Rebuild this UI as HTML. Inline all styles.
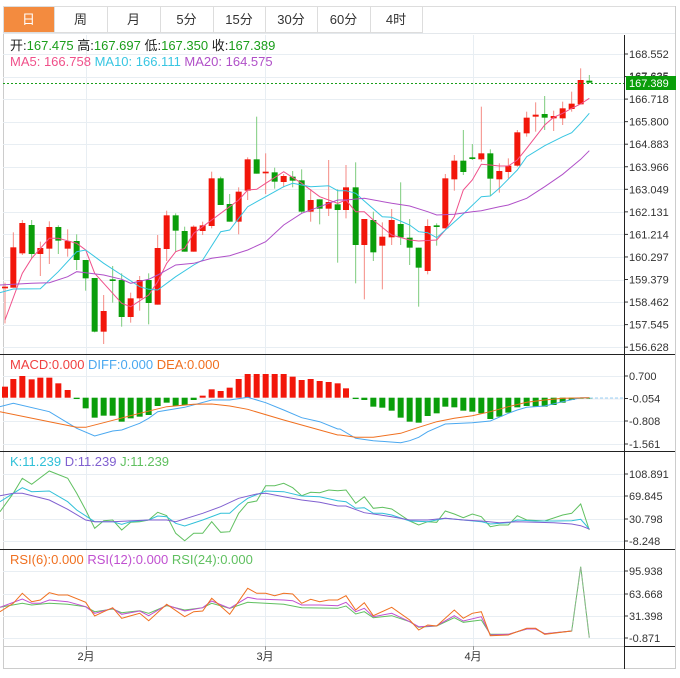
<!DOCTYPE html>
<html><head><meta charset="utf-8"><style>
body{margin:0;background:#fff;width:680px;height:678px;overflow:hidden;font-family:"Liberation Sans","Noto Sans CJK SC",sans-serif}
svg{position:absolute;left:0;top:0}
text{font-family:"Liberation Sans","Noto Sans CJK SC",sans-serif}
</style></head><body>
<svg id="s" width="680" height="678" xmlns="http://www.w3.org/2000/svg"></svg>
<script>
const S=document.getElementById('s');let h='';
function L(x1,y1,x2,y2,c,w,d){h+=`<line x1="${x1}" y1="${y1}" x2="${x2}" y2="${y2}" stroke="${c}" stroke-width="${w||1}" ${d?'stroke-dasharray="'+d+'"':''}/>`;}
function R(x,y,w,hh,c){h+=`<rect x="${x}" y="${y}" width="${w}" height="${hh}" fill="${c}"/>`;}
function T(x,y,s,c,sz,a){h+=`<text x="${x}" y="${y}" fill="${c}" font-size="${sz||12}" ${a?'text-anchor="'+a+'"':''}>${s}</text>`;}
function P(arr,c,w,d){h+=`<polyline fill="none" stroke="${c}" stroke-width="${w||1}" ${d?'stroke-dasharray="'+d+'"':''} points="${arr.map(p=>p[0].toFixed(1)+','+p[1].toFixed(1)).join(' ')}"/>`;}
function Z(list,xo,yo){return list.map(p=>[xo+p[0]/3,yo+p[1]/3]);}
const tabs=[['日',3,54],['周',54,107],['月',107,160],['5分',160,213],['15分',213,265],['30分',265,317],['60分',317,370],['4时',370,422]];
R(3,6,672,27,'#fff');
tabs.forEach((t,i)=>{R(t[1],6,t[2]-t[1],26,i==0?'#f38b3f':'#fff');h+=`<rect x="${t[1]+.5}" y="6.5" width="${t[2]-t[1]}" height="26" fill="none" stroke="#ddd"/>`;T((t[1]+t[2])/2,24,t[0],i==0?'#fff':'#333',13,'middle');});
L(422,6.5,675,6.5,'#ddd');
L(3.5,33,3.5,669,'#ccc');L(3,33.5,675,33.5,'#e4e8ec');L(675.5,6,675.5,669,'#ccc');L(3,668.5,675,668.5,'#ccc');
[86,265,473].forEach(x=>L(x+.5,35,x+.5,646,'#e8eef3'));
const pl=['168.552','167.635','166.718','165.800','164.883','163.966','163.049','162.131','161.214','160.297','159.379','158.462','157.545','156.628'];
pl.forEach((s,k)=>{let y=54+22.55*k;L(3,Math.round(y)+.5,624,Math.round(y)+.5,'#e8eef3');L(624,y,628,y,'#333');T(629,y+4,s,'#333',11);});
function grid(ys,labs){ys.forEach((y,i)=>{L(3,y+.5,624,y+.5,'#e8eef3');L(624,y,628,y,'#333');T(629,y+4,labs[i],'#333',11);});}
grid([376,398.5,421,444],['0.700','-0.054','-0.808','-1.561']);
grid([474,496,519,541],['108.891','69.845','30.798','-8.248']);
grid([571,594,616,638],['95.938','63.668','31.398','-0.871']);
const c1=[[15,560,565,548,670,'r'],[40,442,563,397,563,'r'],[67,369,460,360,465,'r'],[95,375,462,360,475,'g'],[121,444,462,425,528,'r'],[148,381,446,364,492,'r'],[175,381,422,376,462,'g'],[203,423,446,388,470,'r'],[230,423,480,403,510,'g'],[257,480,535,480,572,'g'],[284,534,695,534,697,'g'],[311,633,695,585,732,'r'],[338,538,543,498,608,'g'],[365,540,651,520,680,'g'],[392,595,651,578,668,'r'],[419,540,595,528,632,'r'],[446,540,609,520,673,'g'],[473,444,614,405,614,'r'],[500,346,447,332,483,'r'],[527,346,392,340,455,'g'],[554,393,455,380,455,'g'],[581,380,455,376,455,'r'],[608,376,393,365,405,'r'],[635,235,378,215,385,'r'],[662,235,315,230,315,'g'],[689,312,365,282,365,'g'],[716,275,365,262,403,'r'],[743,178,272,172,300,'r'],[770,178,221,50,221,'g'],[797,215,220,160,282,'r'],[824,217,245,203,266,'g'],[851,228,246,222,262,'r'],[878,230,242,213,262,'g'],[905,241,335,208,340,'g'],[932,300,335,267,365,'r'],[959,298,326,298,373,'g'],[986,306,326,180,348,'r'],[1013,313,330,268,488,'g']];
const c2=[[18,382,450,315,475,'r'],[47,382,555,307,670,'g'],[73,477,555,477,718,'r'],[100,480,577,455,603,'g'],[127,530,557,487,688,'r'],[155,480,532,447,555,'r'],[182,492,532,367,555,'g'],[209,533,563,477,615,'g'],[236,563,623,563,740,'g'],[263,498,633,478,643,'r'],[290,496,501,490,557,'g'],[316,355,505,342,505,'r'],[343,302,358,285,392,'r'],[370,302,336,210,345,'g'],[397,292,297,252,300,'g'],[424,280,298,140,305,'r'],[451,280,356,268,408,'g'],[478,333,358,310,398,'r'],[505,317,336,295,355,'r'],[532,217,317,210,320,'r'],[560,173,220,155,230,'r'],[587,164,170,127,215,'r'],[614,162,173,108,210,'g'],[641,168,175,152,213,'r'],[668,145,175,125,195,'r'],[695,131,147,95,155,'r'],[722,60,133,25,133,'r'],[748,62,68,45,68,'g']];
function drawC(list,xo,yo){list.forEach(c=>{let x=xo+c[0]/3,col=c[5]=='r'?'#f2160a':'#0a9e0a',wc=c[5]=='r'?'#f48a84':'#7ccc7c';L(x,yo+c[3]/3,x,yo+c[4]/3,wc,1);let bt=yo+c[1]/3,bb=yo+c[2]/3;R(x-3,bt,6,Math.max(1.5,bb-bt),col);});}
drawC(c1,0,100);drawC(c2,340,60);
P(Z([[15,660],[67,520],[95,475],[148,415],[175,415],[230,430],[257,450],[284,520],[311,550],[365,610],[392,620],[446,585],[473,545],[500,490],[527,455],[554,445],[581,400],[608,380],[662,340],[716,300],[743,270],[770,268],[797,250],[851,215],[905,250],[959,290],[1013,310]],0,100).concat(Z([[18,420],[47,455],[73,455],[100,480],[155,525],[209,540],[236,543],[290,540],[316,510],[343,470],[370,390],[397,360],[424,313],[451,315],[478,318],[505,318],[532,300],[560,265],[587,230],[614,195],[641,172],[668,160],[695,145],[722,132],[748,115]],340,60)),'#f0508a');
P(Z([[0,578],[40,567],[121,566],[175,515],[230,455],[257,450],[311,490],[365,525],[419,560],[446,568],[473,570],[527,530],[581,495],[608,480],[662,395],[689,390],[743,320],[797,290],[851,260],[878,250],[932,260],[986,257],[1013,272]],0,100).concat(Z([[18,392],[47,400],[73,423],[127,470],[155,472],[209,495],[236,515],[263,518],[290,533],[316,510],[370,462],[424,410],[451,408],[478,385],[532,330],[560,290],[614,257],[668,230],[695,218],[722,190],[748,160]],340,60)),'#38c6e2');
P(Z([[0,555],[95,550],[148,548],[203,530],[230,515],[257,518],[311,525],[365,538],[392,550],[446,538],[473,525],[527,495],[581,490],[635,475],[689,467],[743,450],[797,425],[851,375],[905,340],[959,320],[1013,300]],0,100).concat(Z([[18,420],[73,415],[155,430],[209,438],[263,455],[290,465],[343,463],[397,455],[424,452],[478,440],[505,435],[560,415],[614,380],[668,343],[695,320],[722,298],[748,272]],340,60)),'#b050c8');
L(3,83.5,624,83.5,'#1a9e1a',1,'2,2');
T(629,80,'167.635','#333',11);
R(626,76,50,14,'#0a9e0a');T(629,87,'167.389','#fff',11);
h+=`<text x="10" y="50" font-size="13"><tspan fill="#222">开:</tspan><tspan fill="#1a9e1a">167.475 </tspan><tspan fill="#222"> 高:</tspan><tspan fill="#1a9e1a">167.697 </tspan><tspan fill="#222"> 低:</tspan><tspan fill="#1a9e1a">167.350 </tspan><tspan fill="#222"> 收:</tspan><tspan fill="#1a9e1a">167.389</tspan></text>`;
h+=`<text x="10" y="66" font-size="13"><tspan fill="#f0508a">MA5: 166.758 </tspan><tspan fill="#38c6e2"> MA10: 166.111 </tspan><tspan fill="#b050c8"> MA20: 164.575</tspan></text>`;
const mb=[110,87,78,88,83,83,100,120,147,175,203,197,197,215,205,200,195,168,158,168,165,150,137,118,123,113,87,72,72,72,72,72,80,90,87,93,96,100,115,147,150,170,173,182,203,215,218,198,190,170,172,182,185,190,207,200,188,172,168,170,170,165,158,150,145,144];
const xs=c1.map(c=>c[0]/3).concat(c2.map(c=>340+c[0]/3));
mb.forEach((v,i)=>{let y=350+v/3,z=397.7,x=xs[i];if(!x)return;if(v<143)R(x-3,y,6,z-y,'#f2160a');else R(x-3,z,6,Math.max(1,y-z),'#0a9e0a');});
P(Z([[0,170],[40,160],[148,185],[230,235],[284,258],[338,243],[365,240],[419,220],[446,205],[473,185],[554,172],[635,150],[689,150],[743,142],[797,158],[851,180],[905,203],[959,215],[1013,237]],0,350).concat(Z([[0,237],[47,265],[100,272],[182,278],[209,272],[236,262],[263,245],[316,222],[397,218],[451,213],[505,190],[532,180],[560,172],[614,168],[668,155],[722,143],[748,143]],340,350)),'#4aa8f0');
L(590,398,624,398,'#9cd0f4',1,'3,2');
P(Z([[0,185],[148,215],[230,232],[257,232],[311,218],[419,190],[500,170],[581,163],[635,162],[689,168],[743,178],[851,210],[959,240],[1013,255]],0,350).concat(Z([[0,255],[47,262],[100,262],[182,250],[236,232],[290,215],[343,205],[397,197],[451,185],[505,170],[560,157],[614,150],[668,145],[748,143]],340,350)),'#f07020');
h+=`<text x="10" y="369" font-size="13"><tspan fill="#f04040">MACD:0.000 </tspan><tspan fill="#4aa8f0"> DIFF:0.000 </tspan><tspan fill="#f07020"> DEA:0.000</tspan></text>`;
P(Z([[0,485],[40,430],[67,385],[95,403],[148,363],[203,385],[230,430],[257,480],[284,535],[311,512],[338,510],[365,540],[392,517],[419,515],[446,510],[473,487],[500,497],[527,550],[554,572],[581,550],[608,550],[635,515],[662,547],[689,545],[716,490],[743,458],[770,453],[797,407],[824,407],[851,400],[878,413],[905,437],[932,427],[959,428],[986,420],[1013,422]],0,350).concat(Z([[18,420],[47,460],[73,440],[100,475],[127,472],[155,477],[209,513],[236,525],[263,515],[290,517],[316,483],[343,492],[370,503],[397,492],[424,500],[451,530],[478,525],[505,525],[532,497],[560,510],[614,513],[668,495],[695,490],[722,462],[748,540]],340,350)),'#60c060');
P(Z([[0,455],[67,413],[95,425],[148,423],[203,455],[230,480],[284,515],[338,515],[365,523],[392,515],[446,510],[473,498],[500,500],[527,520],[554,528],[608,510],[662,490],[689,490],[716,465],[743,445],[797,423],[851,425],[905,438],[959,440],[1013,452]],0,350).concat(Z([[18,455],[47,475],[73,473],[100,490],[127,490],[155,495],[209,513],[263,515],[316,505],[370,510],[424,515],[451,522],[505,518],[532,510],[587,513],[641,513],[695,512],[722,508],[748,537]],340,350)),'#30c0d8');
P(Z([[0,437],[40,430],[67,430],[148,450],[203,478],[257,510],[284,515],[338,515],[446,510],[500,510],[527,515],[608,490],[662,470],[716,445],[770,432],[797,430],[851,440],[905,450],[959,457],[1013,468]],0,350).concat(Z([[18,468],[73,488],[155,500],[209,510],[263,510],[316,505],[370,510],[424,513],[478,518],[532,515],[641,518],[695,522],[722,527],[748,537]],340,350)),'#8060d0');
h+=`<text x="10" y="466" font-size="13"><tspan fill="#30c0d8">K:11.239 </tspan><tspan fill="#8060d0"> D:11.239 </tspan><tspan fill="#60c060"> J:11.239</tspan></text>`;
P(Z([[0,187],[67,175],[95,180],[148,175],[203,178],[257,185],[284,200],[338,192],[365,203],[419,197],[446,205],[500,182],[554,195],[608,188],[635,175],[689,190],[743,172],[851,178],[905,188],[1013,190]],0,545).concat(Z([[18,183],[47,207],[73,200],[100,218],[155,212],[209,230],[236,247],[290,243],[343,218],[370,232],[424,225],[451,268],[505,268],[560,252],[587,252],[614,266],[695,258],[722,65],[748,278]],340,545)),'#60c060');
P(Z([[0,187],[67,162],[95,175],[121,175],[148,165],[203,170],[257,185],[284,205],[338,190],[365,208],[419,198],[446,212],[500,180],[554,198],[608,188],[635,168],[689,190],[743,157],[770,162],[851,165],[878,167],[905,180],[959,180],[1013,182]],0,545).concat(Z([[18,172],[47,200],[73,190],[100,215],[155,205],[209,230],[236,245],[290,242],[343,212],[370,228],[424,215],[451,270],[505,268],[560,252],[587,252],[614,266],[695,258]],340,545)),'#c050d0');
P(Z([[0,200],[40,175],[67,145],[95,170],[121,165],[148,143],[175,150],[203,150],[257,172],[284,213],[311,200],[338,188],[365,220],[419,205],[446,227],[500,178],[554,215],[581,200],[608,198],[635,160],[689,208],[743,130],[770,145],[797,145],[824,152],[851,145],[878,147],[905,175],[932,163],[959,170],[986,165],[1013,165]],0,545).concat(Z([[18,152],[47,195],[73,173],[100,212],[155,187],[209,225],[236,255],[263,240],[290,243],[343,195],[370,220],[397,205],[424,200],[451,272],[505,270],[560,250],[587,250],[614,268],[695,258]],340,545)),'#f07020');
P(Z([[695,258],[722,65],[748,278]],340,545),'#9ab09a',1,'4,2');
h+=`<text x="10" y="564" font-size="13"><tspan fill="#f07020">RSI(6):0.000 </tspan><tspan fill="#c050d0"> RSI(12):0.000 </tspan><tspan fill="#60c060"> RSI(24):0.000</tspan></text>`;
[354.5,451.5,549.5].forEach(y=>L(0,y,675,y,'#222'));
L(3,646.5,675,646.5,'#ccc');L(624,646.5,675,646.5,'#222');
L(624.5,35,624.5,669,'#222');
[[86,'2月'],[265,'3月'],[473,'4月']].forEach(d=>{L(d[0]+.5,646,d[0]+.5,650,'#999');T(d[0],660,d[1],'#333',11,'middle');});
S.innerHTML=h;
</script>
</body></html>
